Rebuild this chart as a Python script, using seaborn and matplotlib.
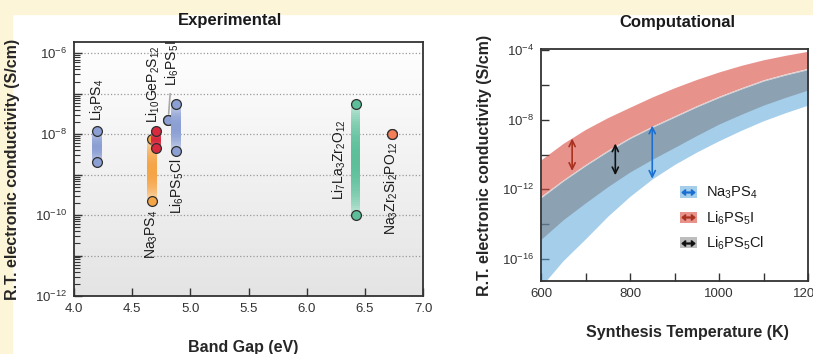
import numpy as np
import pandas as pd
import matplotlib
matplotlib.use("Agg")
import matplotlib.pyplot as plt
import matplotlib.ticker as mticker
from matplotlib.patches import Patch, Rectangle
from matplotlib.lines import Line2D
from matplotlib.colors import to_rgb, LinearSegmentedColormap
import seaborn as sns

# --- Experimental panel: band gap vs measured R.T. electronic conductivity range ---
exp_names = ["Li$_3$PS$_4$", "Na$_3$PS$_4$", "Li$_{10}$GeP$_2$S$_{12}$", "Li$_6$PS$_5$I",
             "Li$_6$PS$_5$Cl", "Li$_7$La$_3$Zr$_2$O$_{12}$", "Na$_3$Zr$_2$Si$_2$PO$_{12}$"]
exp_gap = [4.20, 4.67, 4.705, 4.81, 4.88, 6.42, 6.73]          # eV
exp_sigma_hi = [1.2e-8, 7.5e-9, 1.2e-8, 2.3e-8, 5.6e-8, 5.6e-8, 1.0e-8]   # S/cm
exp_sigma_lo = [2.0e-9, 2.2e-10, 4.5e-9, 2.3e-8, 3.9e-9, 1.0e-10, 1.0e-8]
exp_colors = ["#8b9fd3", "#f5a446", "#d8293f", "#8b9fd3", "#8b9fd3", "#5cbf9a", "#f47e58"]

# --- Computational panel: log10 conductivity bands vs synthesis temperature ---
temp_K = [600, 650, 700, 750, 800, 850, 900, 950, 1000, 1050, 1100, 1150, 1200]
na3ps4_hi = [-12.45, -11.50, -10.62, -9.80, -9.05, -8.41, -7.82, -7.23, -6.69, -6.20, -5.74, -5.39, -5.08]
na3ps4_lo = [-17.60, -16.10, -14.85, -13.55, -12.40, -11.40, -10.57, -9.85, -9.20, -8.60, -8.05, -7.58, -7.15]
li6ps5i_hi = [-10.30, -9.35, -8.55, -7.87, -7.27, -6.68, -6.15, -5.67, -5.24, -4.86, -4.54, -4.28, -4.05]
li6ps5i_lo = [-12.40, -11.45, -10.57, -9.75, -9.00, -8.36, -7.77, -7.18, -6.64, -6.15, -5.69, -5.34, -5.03]
li6ps5cl_hi = [-12.50, -11.53, -10.65, -9.83, -9.08, -8.44, -7.85, -7.26, -6.72, -6.23, -5.77, -5.42, -5.11]
li6ps5cl_lo = [-14.88, -13.75, -12.78, -11.85, -11.00, -10.27, -9.59, -8.90, -8.24, -7.68, -7.15, -6.70, -6.28]

# double-headed arrows marking band widths (T, log10 top, log10 bottom)
arrow_names = ["Na3PS4", "Li6PS5I", "Li6PS5Cl"]
arrow_T = [850, 670, 767]
arrow_top = [-8.33, -9.07, -9.36]
arrow_bot = [-11.39, -10.94, -11.19]

sns.set_style("ticks")
plt.rcParams["font.family"] = ["Liberation Sans", "DejaVu Sans"]
plt.rcParams["mathtext.default"] = "regular"
plt.rcParams["xtick.direction"] = "in"
plt.rcParams["ytick.direction"] = "in"
plt.rcParams["axes.edgecolor"] = "#333333"
plt.rcParams["xtick.color"] = "#333333"
plt.rcParams["ytick.color"] = "#333333"
plt.rcParams["text.color"] = "#1a1a1a"

W, H = 813, 354
fig = plt.figure(figsize=(W / 100, H / 100), dpi=100)
fig.patch.set_facecolor("white")
# cream page strips
fig.patches.append(Rectangle((0, 1 - 14 / H), 1, 14 / H, transform=fig.transFigure,
                             color="#fdf5d8", zorder=-1))
fig.patches.append(Rectangle((0, 0), 12 / W, 1, transform=fig.transFigure,
                             color="#fdf5d8", zorder=-1))


def px_rect(left, top, right, bottom):
    return [left / W, 1 - bottom / H, (right - left) / W, (bottom - top) / H]


# ---------------- Experimental ----------------
pos1 = px_rect(74, 42, 423, 296)
bg = fig.add_axes(pos1, zorder=0)
grad = np.linspace(0, 1, 256).reshape(-1, 1)
bg.imshow(grad, aspect="auto", extent=[0, 1, 0, 1],
          cmap=LinearSegmentedColormap.from_list("bg", ["#ffffff", "#e4e4e4"]))
bg.set_axis_off()

ax = fig.add_axes(pos1, zorder=1)
ax.set_facecolor("none")
ax.set_yscale("log")


def gradient_bar(ax, x, lo, hi, color, width=0.085, n=60, z=2):
    edges = np.geomspace(lo, hi, n + 1)
    t = (np.arange(n) + 0.5) / n
    alpha = 0.22 + 0.78 * np.sin(np.pi * t) ** 0.6
    rgb = np.array(to_rgb(color))
    for k in range(n):
        c = alpha[k] * rgb + (1 - alpha[k]) * np.ones(3)
        ax.fill_between([x - width / 2, x + width / 2], edges[k], edges[k + 1],
                        color=c, lw=0, antialiased=False, zorder=z)


pts = pd.DataFrame({"name": exp_names, "gap": exp_gap, "hi": exp_sigma_hi,
                    "lo": exp_sigma_lo, "color": exp_colors})
for i, row in pts.iterrows():
    z = 3 + 2 * i
    if row["hi"] != row["lo"]:
        gradient_bar(ax, row["gap"], row["lo"], row["hi"], row["color"], z=z)
    sns.scatterplot(x=[row["gap"], row["gap"]], y=[row["lo"], row["hi"]], color=row["color"],
                    s=50, edgecolor="#2f2f2f", linewidth=0.9, zorder=z + 1, ax=ax, legend=False)

lab_kw = dict(textcoords="offset points", rotation=90, ha="center", fontsize=10)
ax.annotate(exp_names[0], (exp_gap[0], exp_sigma_hi[0]), xytext=(0, 7), va="bottom", **lab_kw)
ax.annotate(exp_names[1], (exp_gap[1], exp_sigma_lo[1]), xytext=(0, -6), va="top", **lab_kw)
ax.annotate(exp_names[2], (exp_gap[2], exp_sigma_hi[2]), xytext=(-2, 6), va="bottom", **lab_kw)
ax.annotate(exp_names[3], (exp_gap[3], exp_sigma_hi[3]), xytext=(3, 24), va="bottom",
            arrowprops=dict(arrowstyle="-", color="#a8a8a8", lw=1.2, shrinkA=3, shrinkB=4),
            **lab_kw)
ax.annotate(exp_names[4], (exp_gap[4], exp_sigma_lo[4]), xytext=(1, -6), va="top", **lab_kw)
ax.annotate(exp_names[5], (exp_gap[5], np.sqrt(exp_sigma_hi[5] * exp_sigma_lo[5])),
            xytext=(-12, 0), va="center", **lab_kw)
ax.annotate(exp_names[6], (exp_gap[6], exp_sigma_lo[6]), xytext=(0, -5), va="top", **lab_kw)

ax.set_xlim(4.0, 7.0)
ax.set_ylim(1e-12, 10 ** -5.72)
ax.xaxis.set_major_locator(mticker.MultipleLocator(0.5))
ax.xaxis.set_major_formatter(mticker.FormatStrFormatter("%.1f"))
ax.yaxis.set_major_locator(mticker.FixedLocator([10.0 ** e for e in range(-12, -5)]))
ax.yaxis.set_major_formatter(mticker.FuncFormatter(
    lambda v, p: r"$10^{%d}$" % round(np.log10(v)) if round(np.log10(v)) % 2 == 0 else ""))
ax.yaxis.set_minor_locator(mticker.LogLocator(base=10, subs=np.arange(2, 10), numticks=20))
ax.yaxis.set_minor_formatter(mticker.NullFormatter())
ax.tick_params(axis="both", which="major", length=6, width=1, labelsize=9.5, pad=5)
ax.tick_params(axis="y", which="minor", length=4, width=0.8)
ax.yaxis.grid(True, which="major", linestyle=":", color="#9a9a9a", lw=0.9)
for sp in ax.spines.values():
    sp.set_linewidth(1.3)

ax.set_title("Experimental", fontsize=12, fontweight="bold", x=0.446, pad=12)
ax.set_xlabel("Band Gap (eV)", fontsize=11.5, fontweight="bold")
ax.xaxis.set_label_coords(0.484, -0.173)
ax.set_ylabel("R.T. electronic conductivity (S/cm)", fontsize=11.5, fontweight="bold")
ax.yaxis.set_label_coords(-0.155, 0.5)

# ---------------- Computational ----------------
ax2 = fig.add_axes(px_rect(541, 49, 808, 281))
ax2.set_yscale("log")

T = np.array(temp_K)
band_blue = dict(color="#5ba6dc", alpha=0.55)
band_red = dict(color="#da4940", alpha=0.6)
band_gray = dict(color="#6e6e6e", alpha=0.45)

ax2.fill_between(T, 10.0 ** np.array(na3ps4_lo), 10.0 ** np.array(na3ps4_hi), lw=0, **band_blue)
ax2.fill_between(T, 10.0 ** np.array(li6ps5cl_lo), 10.0 ** np.array(li6ps5cl_hi), lw=0, **band_gray)
ax2.fill_between(T, 10.0 ** np.array(li6ps5i_lo), 10.0 ** np.array(li6ps5i_hi), lw=0, **band_red)
sns.lineplot(x=T, y=10.0 ** np.array(li6ps5cl_hi), color="#dccdcd", lw=0.8, ax=ax2)

arrow_colors = ["#1b6fd1", "#a8321f", "#111111"]
for name, t, top, bot, c in zip(arrow_names, arrow_T, arrow_top, arrow_bot, arrow_colors):
    ax2.annotate("", xy=(t, 10.0 ** top), xytext=(t, 10.0 ** bot),
                 arrowprops=dict(arrowstyle="<->,head_length=0.45,head_width=0.22",
                                 color=c, lw=1.2, shrinkA=0, shrinkB=0))

ax2.set_xlim(600, 1200)
ax2.set_ylim(10 ** -17.28, 10 ** -3.92)
ax2.xaxis.set_major_locator(mticker.MultipleLocator(200))
ax2.xaxis.set_minor_locator(mticker.MultipleLocator(100))
ax2.yaxis.set_major_locator(mticker.FixedLocator([10.0 ** e for e in range(-16, -3, 2)]))
ax2.yaxis.set_major_formatter(mticker.FuncFormatter(
    lambda v, p: r"$10^{%d}$" % round(np.log10(v)) if round(np.log10(v)) % 4 == 0 else ""))
ax2.yaxis.set_minor_locator(mticker.NullLocator())
ax2.tick_params(axis="both", which="major", length=6, width=1, labelsize=9.5, pad=5)
ax2.tick_params(axis="x", which="minor", length=6, width=1)
for sp in ax2.spines.values():
    sp.set_linewidth(1.3)

handles = [
    (Patch(**band_blue, lw=0), Line2D([], [], marker=r"$\leftrightarrow$", color=arrow_colors[0], ms=9, ls="none")),
    (Patch(**band_red, lw=0), Line2D([], [], marker=r"$\leftrightarrow$", color=arrow_colors[1], ms=9, ls="none")),
    (Patch(**band_gray, lw=0), Line2D([], [], marker=r"$\leftrightarrow$", color=arrow_colors[2], ms=9, ls="none")),
]
labels = ["Na$_3$PS$_4$", "Li$_6$PS$_5$I", "Li$_6$PS$_5$Cl"]
ax2.legend(handles, labels, loc="upper left", bbox_to_anchor=(0.47, 0.47), frameon=False,
           fontsize=10.5, handlelength=1.2, handleheight=0.8, handletextpad=0.6, labelspacing=0.55)

ax2.set_title("Computational", fontsize=12, fontweight="bold", x=0.509, pad=16)
ax2.set_xlabel("Synthesis Temperature (K)", fontsize=11.5, fontweight="bold")
ax2.xaxis.set_label_coords(0.547, -0.19)
ax2.set_ylabel("R.T. electronic conductivity (S/cm)", fontsize=11.5, fontweight="bold")
ax2.yaxis.set_label_coords(-0.1835, 0.5)

fig.savefig("out.png", dpi=100)
